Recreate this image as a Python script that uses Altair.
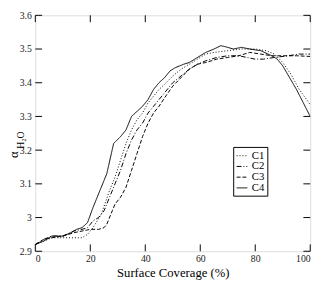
import altair as alt
import pandas as pd

# --- data ---
c1_x = [0, 3, 6, 10, 14, 17, 19, 21, 24, 27, 29, 31, 33, 35, 37, 39, 41, 43, 45, 47, 50, 53, 56, 59, 62, 65, 70, 75, 80, 84, 87, 90, 93, 96, 100]
c1_y = [2.92, 2.93, 2.94, 2.94, 2.94, 2.94, 2.95, 2.97, 3.01, 3.08, 3.12, 3.17, 3.22, 3.26, 3.29, 3.31, 3.34, 3.36, 3.38, 3.395, 3.42, 3.44, 3.455, 3.47, 3.485, 3.49, 3.495, 3.5, 3.5, 3.495, 3.485, 3.46, 3.425, 3.38, 3.335]

c2_x = [0, 3, 6, 10, 14, 17, 19, 21, 23, 25, 27, 29, 31, 33, 35, 37, 39, 41, 43, 45, 47, 50, 53, 56, 59, 62, 66, 70, 74, 77, 80, 83, 87, 92, 96, 100]
c2_y = [2.92, 2.935, 2.945, 2.945, 2.96, 2.965, 2.97, 2.99, 3.0, 3.02, 3.06, 3.10, 3.14, 3.19, 3.23, 3.26, 3.28, 3.31, 3.33, 3.35, 3.37, 3.40, 3.42, 3.44, 3.455, 3.465, 3.475, 3.48, 3.48, 3.475, 3.47, 3.47, 3.475, 3.48, 3.485, 3.485]

c3_x = [0, 3, 6, 10, 14, 17, 20, 23, 25, 26, 28, 29, 31, 33, 35, 37, 39, 41, 43, 45, 47, 50, 53, 56, 59, 62, 66, 70, 74, 78, 82, 86, 90, 95, 100]
c3_y = [2.92, 2.935, 2.94, 2.945, 2.955, 2.96, 2.965, 2.965, 2.97, 2.98, 3.02, 3.04, 3.06, 3.09, 3.14, 3.19, 3.24, 3.28, 3.31, 3.33, 3.355, 3.39, 3.415, 3.44, 3.455, 3.46, 3.47, 3.475, 3.48, 3.49, 3.485, 3.48, 3.48, 3.48, 3.478]

c4_x = [0, 3, 6, 10, 13, 15, 17, 19, 21, 23, 26, 28.5, 31, 33, 35, 37, 39, 41, 43, 45, 47, 49, 51, 54, 56, 58, 60, 62, 65, 67.5, 70, 72, 75, 78, 82, 86, 88, 90, 95, 100]
c4_y = [2.92, 2.93, 2.945, 2.945, 2.955, 2.965, 2.97, 2.985, 3.03, 3.07, 3.13, 3.22, 3.24, 3.26, 3.30, 3.315, 3.33, 3.35, 3.38, 3.40, 3.415, 3.435, 3.445, 3.455, 3.46, 3.47, 3.48, 3.49, 3.50, 3.51, 3.505, 3.50, 3.505, 3.50, 3.495, 3.48, 3.47, 3.45, 3.38, 3.30]

series_names = ["C1", "C2", "C3", "C4"]
x_ticks = [0, 20, 40, 60, 80, 100]
y_ticks = [2.9, 3.0, 3.1, 3.2, 3.3, 3.4, 3.5, 3.6]

rows = []
for name, xs, ys in zip(series_names, [c1_x, c2_x, c3_x, c4_x], [c1_y, c2_y, c3_y, c4_y]):
    for i, (a, b) in enumerate(zip(xs, ys)):
        rows.append({"series": name, "x": a, "y": b, "order": i})
df = pd.DataFrame(rows)

W, H = 282, 242
FONT = "Liberation Serif"
TL = 7

xscale = alt.Scale(domain=[0, 100], nice=False, zero=False)
yscale = alt.Scale(domain=[2.9, 3.6], nice=False, zero=False)

xaxis = alt.Axis(values=x_ticks, ticks=False, domain=False, grid=False,
                 labelFontSize=10, labelFont=FONT, labelColor="#222",
                 labelPadding=3, labelOverlap=False, title="Surface Coverage (%)",
                 titleFont=FONT, titleFontSize=13, titleFontWeight="normal",
                 titleColor="#000", titlePadding=3)
yaxis = alt.Axis(values=y_ticks, ticks=False, domain=False, grid=False,
                 labelFontSize=10, labelFont=FONT, labelColor="#222",
                 labelPadding=4, labelOverlap=False, title=None,
                 labelExpr="datum.value == 3 ? '3' : format(datum.value, '.1f')")

lines = alt.Chart(df).mark_line(strokeWidth=1, clip=True).encode(
    x=alt.X("x:Q", scale=xscale, axis=xaxis),
    y=alt.Y("y:Q", scale=yscale, axis=yaxis),
    strokeDash=alt.StrokeDash("series:N",
        scale=alt.Scale(domain=series_names, range=[[1, 2], [5, 2, 1, 2], [4, 2], [1, 0]]),
        legend=alt.Legend(title=None, orient="none", legendX=203, legendY=135,
                          strokeColor="#000", padding=3, labelFont=FONT,
                          labelFontSize=11, labelColor="#000", symbolType="stroke",
                          symbolSize=121, symbolStrokeWidth=1, symbolStrokeColor="#000",
                          rowPadding=0, labelOffset=4, fillColor="white")),
    color=alt.value("#000"),
    order="order:Q",
)

xt = pd.DataFrame({"v": x_ticks})
yt = pd.DataFrame({"v": y_ticks})
tick_top = alt.Chart(xt).mark_rule(color="#000", strokeWidth=1).encode(
    x=alt.X("v:Q", scale=xscale, axis=xaxis), y=alt.value(0), y2=alt.value(TL))
tick_bot = alt.Chart(xt).mark_rule(color="#000", strokeWidth=1).encode(
    x=alt.X("v:Q", scale=xscale, axis=xaxis), y=alt.value(H - TL), y2=alt.value(H))
tick_left = alt.Chart(yt).mark_rule(color="#000", strokeWidth=1).encode(
    y=alt.Y("v:Q", scale=yscale, axis=yaxis), x=alt.value(0), x2=alt.value(TL))
tick_right = alt.Chart(yt).mark_rule(color="#000", strokeWidth=1).encode(
    y=alt.Y("v:Q", scale=yscale, axis=yaxis), x=alt.value(W - TL), x2=alt.value(W))

one = alt.Data(values=[{"a": 1}])
alpha = alt.Chart(one).mark_text(text="α", angle=270, font=FONT, fontSize=13,
                                 align="center", baseline="middle", color="#000").encode(
    x=alt.value(-22), y=alt.value(143))
h2o = alt.Chart(one).mark_text(text="H₂O", angle=270, font=FONT, fontSize=10,
                               align="center", baseline="middle", color="#000").encode(
    x=alt.value(-15), y=alt.value(128))

chart = alt.layer(lines, tick_top, tick_bot, tick_left, tick_right, alpha, h2o).properties(
    width=W, height=H,
    autosize=alt.AutoSizeParams(type="none"),
    padding={"left": 28, "top": 4, "right": 9, "bottom": 27},
).configure_view(stroke="#000", strokeWidth=1.2).configure(background="white")

chart.save("out.html", embed_options={"renderer": "svg", "actions": False})
